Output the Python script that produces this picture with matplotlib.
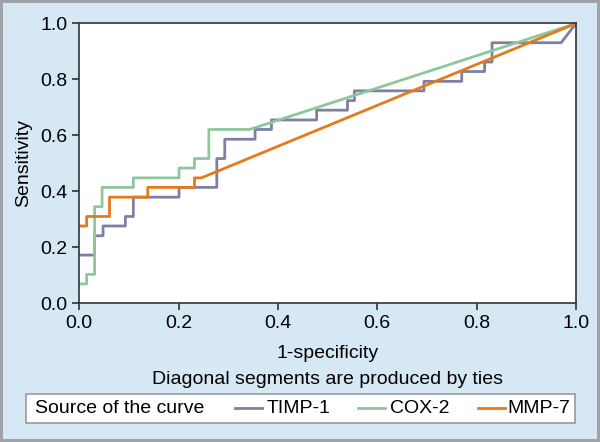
import matplotlib.pyplot as plt
from matplotlib.lines import Line2D
from matplotlib.patches import Rectangle

plt.rcParams['font.family'] = ['Liberation Sans', 'DejaVu Sans']

# ROC curve vertices (1-specificity, sensitivity)
timp_x = [0.0, 0.031, 0.031, 0.048, 0.048, 0.093, 0.093, 0.109, 0.109, 0.201, 0.201,
          0.277, 0.277, 0.293, 0.293, 0.354, 0.354, 0.387, 0.387, 0.478, 0.478,
          0.540, 0.540, 0.554, 0.554, 0.694, 0.694, 0.770, 0.770, 0.816, 0.816,
          0.831, 0.831, 0.970, 1.0]
timp_y = [0.172, 0.172, 0.241, 0.241, 0.276, 0.276, 0.310, 0.310, 0.379, 0.379, 0.414,
          0.414, 0.517, 0.517, 0.586, 0.586, 0.621, 0.621, 0.655, 0.655, 0.690,
          0.690, 0.724, 0.724, 0.759, 0.759, 0.793, 0.793, 0.828, 0.828, 0.862,
          0.862, 0.931, 0.931, 1.0]

cox_x = [0.0, 0.015, 0.015, 0.031, 0.031, 0.046, 0.046, 0.109, 0.109, 0.201, 0.201,
         0.232, 0.232, 0.261, 0.261, 0.343, 1.0]
cox_y = [0.069, 0.069, 0.103, 0.103, 0.345, 0.345, 0.414, 0.414, 0.448, 0.448, 0.483,
         0.483, 0.517, 0.517, 0.621, 0.621, 1.0]

mmp_x = [0.0, 0.015, 0.015, 0.061, 0.061, 0.138, 0.138, 0.232, 0.232, 0.246, 1.0]
mmp_y = [0.276, 0.276, 0.310, 0.310, 0.379, 0.379, 0.414, 0.414, 0.448, 0.448, 1.0]

labels = ['TIMP-1', 'COX-2', 'MMP-7']
colors = ['#7f7fa3', '#8cc89c', '#e57a1c']
bg = '#d6e8f4'
fs = 14

fig = plt.figure(figsize=(6, 4.42), dpi=100, facecolor=bg,
                 edgecolor='#a0a4a8', linewidth=3)
ax = fig.add_axes([0.132, 0.314, 0.828, 0.633])

ax.plot(timp_x, timp_y, color=colors[0], lw=2)
ax.plot(cox_x, cox_y, color=colors[1], lw=2)
ax.plot(mmp_x, mmp_y, color=colors[2], lw=2)

ax.set_xlim(0, 1)
ax.set_ylim(0, 1)
ticks = [0.0, 0.2, 0.4, 0.6, 0.8, 1.0]
ax.set_xticks(ticks)
ax.set_yticks(ticks)
ax.set_xticklabels([f'{t:.1f}' for t in ticks])
ax.set_yticklabels([f'{t:.1f}' for t in ticks])
ax.tick_params(labelsize=fs, color='#333333', length=5, width=1.2)
for s in ax.spines.values():
    s.set_color('#333333')
    s.set_linewidth(1.2)

ax.set_xlabel('1-specificity', fontsize=fs, labelpad=9)
ax.set_ylabel('Sensitivity', fontsize=fs, labelpad=6)
# footnote centred under the plot area
fig.text(0.132 + 0.828 / 2, 0.142, 'Diagonal segments are produced by ties',
         ha='center', va='center', fontsize=fs)

# legend box drawn by hand so the title sits inline like the original
fig.patches.append(Rectangle((0.044, 0.043), 0.914, 0.066, transform=fig.transFigure,
                             facecolor='white', edgecolor='#9a9a9a', lw=1.2))
ly = 0.076
fig.text(0.059, ly, 'Source of the curve', ha='left', va='center', fontsize=fs)
line_x = [(0.392, 0.436), (0.597, 0.642), (0.797, 0.842)]
text_x = [0.445, 0.650, 0.845]
for c, lab, (x0, x1), tx in zip(colors, labels, line_x, text_x):
    fig.lines.append(Line2D([x0, x1], [ly, ly], color=c, lw=2,
                            transform=fig.transFigure))
    fig.text(tx, ly, lab, ha='left', va='center', fontsize=fs)

fig.savefig('out.png', dpi=100, facecolor=bg, edgecolor='#a0a4a8')
